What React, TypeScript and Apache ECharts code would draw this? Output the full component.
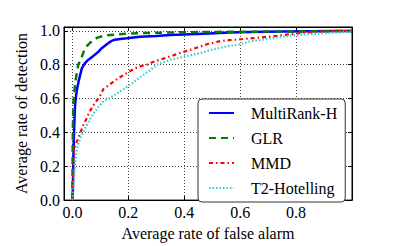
import React, { useEffect, useRef } from "react";
import * as echarts from "echarts";

const xTicks = [0.0, 0.2, 0.4, 0.6, 0.8];
const yTicks = [0.0, 0.2, 0.4, 0.6, 0.8, 1.0];

const seriesNames = ["MultiRank-H", "GLR", "MMD", "T2-Hotelling"];

const mrX = [0.001, 0.003, 0.005, 0.008, 0.010, 0.015, 0.022, 0.034, 0.045, 0.057, 0.070, 0.081, 0.095, 0.105, 0.123, 0.135, 0.147, 0.170, 0.195, 0.242, 0.30, 0.35, 0.42, 0.49, 0.56, 0.64, 0.75, 0.85, 0.93, 1.0];
const mrY = [0.0, 0.20, 0.35, 0.50, 0.57, 0.64, 0.70, 0.78, 0.81, 0.83, 0.845, 0.86, 0.88, 0.898, 0.921, 0.935, 0.946, 0.952, 0.956, 0.965, 0.970, 0.975, 0.980, 0.985, 0.990, 0.993, 0.996, 0.998, 0.999, 1.0];

const glrX = [0.0, 0.001, 0.002, 0.004, 0.008, 0.013, 0.021, 0.034, 0.045, 0.06, 0.075, 0.09, 0.111, 0.135, 0.159, 0.207, 0.3, 0.4, 0.5, 0.6, 0.7, 0.8, 0.9, 1.0];
const glrY = [0.0, 0.30, 0.45, 0.58, 0.66, 0.724, 0.80, 0.849, 0.898, 0.925, 0.946, 0.96, 0.971, 0.976, 0.979, 0.985, 0.989, 0.992, 0.994, 0.995, 0.996, 0.997, 0.998, 1.0];

const mmdX = [0.0, 0.001, 0.004, 0.006, 0.012, 0.021, 0.030, 0.039, 0.050, 0.061, 0.073, 0.087, 0.100, 0.111, 0.123, 0.135, 0.155, 0.177, 0.200, 0.218, 0.242, 0.266, 0.29, 0.314, 0.338, 0.362, 0.386, 0.41, 0.433, 0.457, 0.481, 0.505, 0.529, 0.56, 0.583, 0.61, 0.636, 0.68, 0.732, 0.78, 0.827, 0.88, 0.93, 1.0];
const mmdY = [0.0, 0.017, 0.21, 0.298, 0.33, 0.366, 0.405, 0.443, 0.48, 0.52, 0.555, 0.588, 0.62, 0.656, 0.67, 0.685, 0.71, 0.733, 0.756, 0.775, 0.79, 0.80, 0.817, 0.83, 0.843, 0.856, 0.869, 0.882, 0.894, 0.907, 0.921, 0.93, 0.94, 0.945, 0.948, 0.952, 0.956, 0.962, 0.971, 0.98, 0.99, 0.995, 0.998, 1.0];

const t2X = [0.0, 0.002, 0.006, 0.0097, 0.016, 0.028, 0.04, 0.052, 0.063, 0.075, 0.093, 0.111, 0.13, 0.147, 0.165, 0.183, 0.2, 0.218, 0.24, 0.254, 0.28, 0.302, 0.326, 0.35, 0.38, 0.403, 0.43, 0.457, 0.484, 0.511, 0.538, 0.565, 0.6, 0.63, 0.66, 0.696, 0.74, 0.791, 0.84, 0.887, 0.94, 1.0];
const t2Y = [0.0, 0.017, 0.12, 0.21, 0.298, 0.366, 0.405, 0.443, 0.478, 0.511, 0.55, 0.585, 0.60, 0.617, 0.637, 0.656, 0.676, 0.695, 0.724, 0.74, 0.77, 0.80, 0.815, 0.83, 0.84, 0.849, 0.859, 0.869, 0.882, 0.894, 0.903, 0.913, 0.921, 0.936, 0.944, 0.952, 0.963, 0.975, 0.98, 0.985, 0.99, 0.995];

const zip = (xs: number[], ys: number[]) => xs.map((x, i) => [x, ys[i]]);

const FONT = "'Liberation Serif', 'Times New Roman', serif";

export default function App() {
  const ref = useRef<HTMLDivElement>(null);
  useEffect(() => {
    if (!ref.current) return;
    const chart = echarts.init(ref.current, null, { renderer: "svg" });
    const xMin = -0.03, xMax = 1.0, yMin = 0, yMax = 1.023;
    const gridLine = { show: true, lineStyle: { color: "#444", type: [1, 2], width: 1 } };
    const tickStyle = { show: true, inside: true, length: 4, lineStyle: { color: "#000", width: 1 } };
    chart.setOption({
      animation: false,
      backgroundColor: "#fff",
      grid: { left: 64, right: 47, top: 27, bottom: 43, show: true, borderColor: "#000", borderWidth: 1, backgroundColor: "transparent" },
      legend: {
        orient: "vertical",
        left: 198,
        top: 99,
        data: seriesNames,
        itemWidth: 25,
        itemHeight: 14,
        itemGap: 9,
        padding: [6, 8, 6, 10],
        backgroundColor: "#fff",
        borderColor: "#333",
        borderWidth: 1,
        borderRadius: 4,
        itemStyle: { opacity: 0 },
        textStyle: { fontFamily: FONT, fontSize: 16, color: "#000", padding: [0, 0, 0, 12] },
      },
      xAxis: [
        {
          type: "value", min: xMin, max: xMax,
          name: "Average rate of false alarm", nameLocation: "middle", nameGap: 22,
          nameTextStyle: { fontFamily: FONT, fontSize: 16, color: "#000" },
          axisLine: { show: true, onZero: false, lineStyle: { color: "#000" } },
          axisTick: { ...tickStyle, customValues: xTicks },
          axisLabel: { customValues: xTicks, fontFamily: FONT, fontSize: 16, color: "#000", margin: 4, formatter: (v: number) => v.toFixed(1) },
          splitLine: gridLine,
        },
        {
          type: "value", min: xMin, max: xMax, position: "top",
          axisLine: { show: true, onZero: false, lineStyle: { color: "#000" } },
          axisTick: { ...tickStyle, customValues: xTicks },
          axisLabel: { show: false, customValues: xTicks },
          splitLine: { show: false },
        },
      ],
      yAxis: [
        {
          type: "value", min: yMin, max: yMax,
          name: "Average rate of detection", nameLocation: "middle", nameGap: 33,
          nameTextStyle: { fontFamily: FONT, fontSize: 16, color: "#000" },
          axisLine: { show: true, onZero: false, lineStyle: { color: "#000" } },
          axisTick: { ...tickStyle, customValues: yTicks },
          axisLabel: { customValues: yTicks, fontFamily: FONT, fontSize: 16, color: "#000", margin: 4, formatter: (v: number) => v.toFixed(1) },
          splitLine: gridLine,
        },
        {
          type: "value", min: yMin, max: yMax, position: "right",
          axisLine: { show: true, onZero: false, lineStyle: { color: "#000" } },
          axisTick: { ...tickStyle, customValues: yTicks },
          axisLabel: { show: false, customValues: yTicks },
          splitLine: { show: false },
        },
      ],
      series: [
        { name: seriesNames[0], type: "line", data: zip(mrX, mrY), showSymbol: false, symbol: "none", color: "#0000ff", lineStyle: { color: "#0000ff", width: 2.5, type: "solid" } },
        { name: seriesNames[1], type: "line", data: zip(glrX, glrY), showSymbol: false, symbol: "none", color: "#008000", lineStyle: { color: "#008000", width: 2.5, type: [7, 5] } },
        { name: seriesNames[2], type: "line", data: zip(mmdX, mmdY), showSymbol: false, symbol: "none", color: "#ff0000", lineStyle: { color: "#ff0000", width: 2.2, type: [4, 3, 1.5, 3] } },
        { name: seriesNames[3], type: "line", data: zip(t2X, t2Y), showSymbol: false, symbol: "none", color: "#33cccc", lineStyle: { color: "#33cccc", width: 2.2, type: [1.5, 2] } },
      ],
    });
    return () => chart.dispose();
  }, []);
  return <div ref={ref} style={{ position: "fixed", left: 0, top: 0, width: 399, height: 246 }} />;
}
